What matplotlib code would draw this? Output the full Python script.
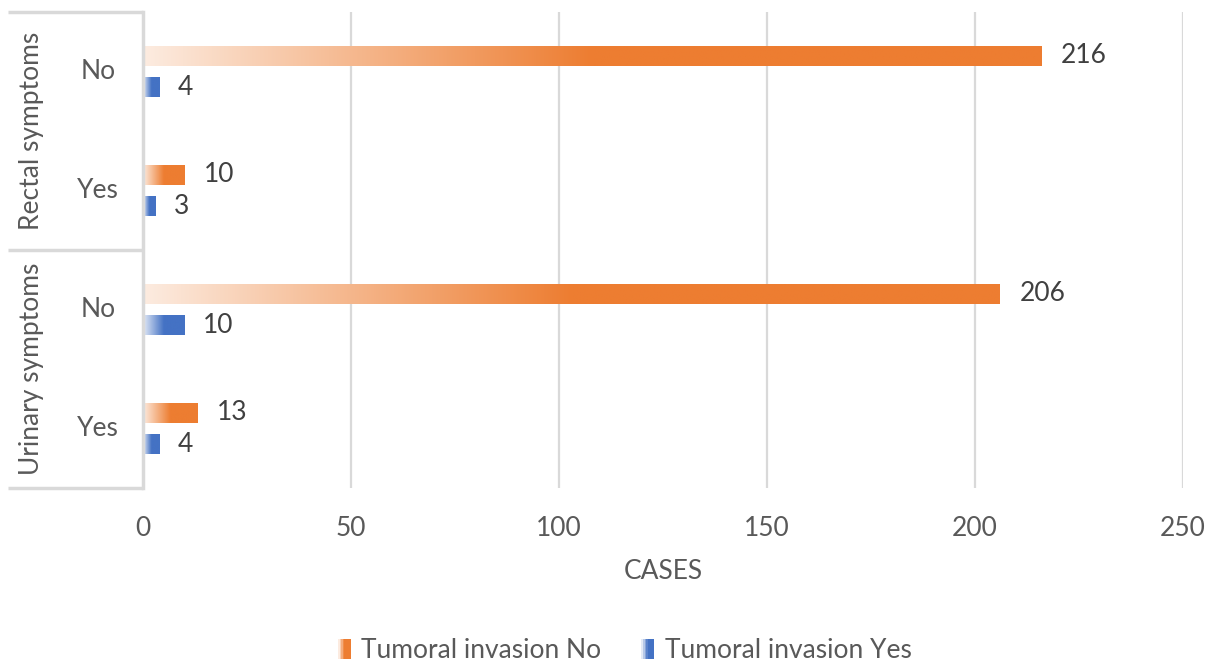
import matplotlib
matplotlib.use("Agg")
import matplotlib.pyplot as plt
import numpy as np
from matplotlib.colors import to_rgb
from matplotlib.patches import Rectangle
from matplotlib.legend_handler import HandlerBase

plt.rcParams['font.family'] = ['Lato', 'DejaVu Sans']

# data
groups = ["Rectal symptoms", "Urinary symptoms"]
answers = ["No", "Yes", "No", "Yes"]
invasion_no = [216, 10, 206, 13]
invasion_yes = [4, 3, 10, 4]
series_names = ["Tumoral invasion No", "Tumoral invasion Yes"]
orange = "#ED7D31"
blue = "#4472C4"
text_col = "#404040"
tick_col = "#595959"
grid_col = "#D9D9D9"
fs = 19


def gradient_img(color, n=256):
    c = np.array(to_rgb(color))
    light = c * 0.15 + 0.85
    t = np.clip(np.linspace(0, 1, n) / 0.5, 0, 1)
    row = light[None, :] * (1 - t[:, None]) + c[None, :] * t[:, None]
    return row[None, :, :]


def grad_barh(ax, y, w, h, color):
    ax.imshow(gradient_img(color), extent=[0, w, y + h / 2, y - h / 2],
              aspect='auto', interpolation='bilinear', zorder=3)


class GradHandler(HandlerBase):
    def create_artists(self, legend, orig_handle, xdescent, ydescent,
                       width, height, fontsize, trans):
        c = orig_handle.get_facecolor()[:3]
        img = gradient_img(c, n=8)[0]
        w = 13 * 0.72
        h = height * 1.05
        x0 = width - w
        y0 = -ydescent - (h - height) / 2
        arts = []
        for i in range(8):
            r = Rectangle((x0 + i * w / 8, y0), w / 8 + 0.05, h,
                          facecolor=img[i], edgecolor='none', transform=trans)
            arts.append(r)
        return arts


fig = plt.figure(figsize=(12.08, 6.64), dpi=100)
ax = fig.add_axes([143 / 1208, 1 - 488 / 664, 1040 / 1208, 476 / 664])

ypos = np.arange(len(answers))
off = 0.134
h = 0.168
for i in range(len(answers)):
    grad_barh(ax, ypos[i] - off, invasion_no[i], h, orange)
    grad_barh(ax, ypos[i] + off, invasion_yes[i], h, blue)
    ax.annotate(str(invasion_no[i]), (invasion_no[i], ypos[i] - off),
                xytext=(14, 0), textcoords='offset points', va='center',
                ha='left', fontsize=fs, color=text_col)
    ax.annotate(str(invasion_yes[i]), (invasion_yes[i], ypos[i] + off),
                xytext=(13, 0), textcoords='offset points', va='center',
                ha='left', fontsize=fs, color=text_col)

ax.set_xlim(0, 250)
ax.set_ylim(len(answers) - 0.5, -0.5)
ax.set_xticks(np.arange(0, 251, 50))
ax.set_yticks([])
ax.tick_params(axis='x', length=0, pad=20, labelsize=fs, labelcolor=tick_col)
ax.xaxis.grid(True, color=grid_col, linewidth=1.6, zorder=0)
ax.set_axisbelow(True)
for s in ['top', 'right', 'bottom']:
    ax.spines[s].set_visible(False)
ax.spines['left'].set_color(grid_col)
ax.spines['left'].set_linewidth(2.5)
ax.spines['left'].set_zorder(4)
ax.set_xlabel("CASES", fontsize=fs, color=tick_col, labelpad=13)

# category axis labels
trans = ax.get_yaxis_transform()
for i, a in enumerate(answers):
    ax.text(-45 / 1040, ypos[i], a, transform=trans, ha='center', va='center',
            fontsize=fs, color=tick_col)
for g, name in enumerate(groups):
    ax.text(-111 / 1040, 2 * g + 0.5, name, transform=trans, rotation=90,
            ha='center', va='center', fontsize=fs, color=tick_col)
for yb in [-0.5, 1.5, 3.5]:
    ax.plot([-135 / 1040, 0], [yb, yb], transform=trans, color=grid_col,
            linewidth=2.5, clip_on=False, solid_capstyle='butt')

h1 = Rectangle((0, 0), 1, 1, facecolor=orange)
h2 = Rectangle((0, 0), 1, 1, facecolor=blue)
fig.legend([h1, h2], series_names, loc='center', bbox_to_anchor=(0.515, 0.02),
           ncol=2, frameon=False, fontsize=fs, labelcolor=tick_col,
           handler_map={Rectangle: GradHandler()}, handlelength=0.7,
           handletextpad=0.4, columnspacing=1.3)

fig.savefig("out.png", dpi=100)
